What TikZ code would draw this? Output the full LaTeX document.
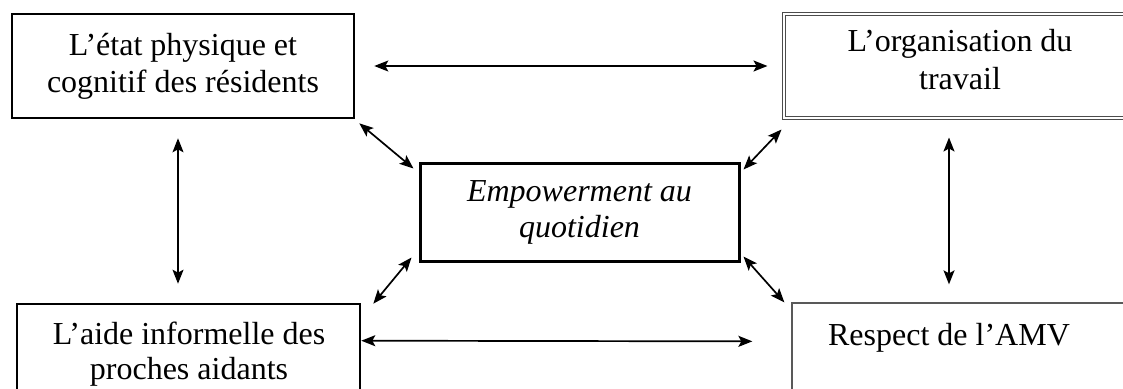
\documentclass[tikz,border=0pt]{standalone}
\usepackage{fontspec}
\setmainfont{Liberation Serif}
\usetikzlibrary{arrows.meta,calc}
\begin{document}
\begin{tikzpicture}[x=1pt,y=-1pt,
  every node/.style={font=\fontsize{32}{37}\selectfont, inner sep=0pt},
  thickbox/.style={draw, line width=2.6pt, align=center},
  centrebox/.style={draw, line width=3pt, align=center, font=\fontsize{32}{36}\selectfont\itshape},
  dblbox/.style={draw=black!70, double, double distance=2.2pt, line width=1pt},
  thinbox/.style={draw=black!65, line width=1.3pt},
  label/.style={align=center},
  arr/.style={line width=1.7pt, {Stealth[length=14pt,width=11pt,inset=3pt]}-{Stealth[length=14pt,width=11pt,inset=3pt]}}
]
\useasboundingbox (0,0) rectangle (1123,388);
\clip (0,0) rectangle (1123,388);

\node[thickbox, minimum width=342pt, minimum height=104pt] (tl) at (183,66) {L’état physique et\\cognitif des résidents};
\node[dblbox, minimum width=352pt, minimum height=104pt] (tr) at (960,66) {};
\node[label, font=\fontsize{32}{38}\selectfont] (trt) at (960,60) {L’organisation du\\travail};
\node[thickbox, minimum width=343pt, minimum height=96pt] (bl) at (188.5,352) {};
\node[label, font=\fontsize{32}{35}\selectfont] (blt) at (189,354) {L’aide informelle des\\proches aidants};
\node[thinbox, minimum width=356pt, minimum height=100pt] (br) at (970,353) {};
\node[label] (brt) at (949,338) {Respect de l’AMV};
\node[centrebox, minimum width=319pt, minimum height=98pt] (c) at (579.5,212) {Empowerment au\\quotidien};

\draw[arr, shorten <=19pt, shorten >=16pt] (tl.east) -- (tr.west);
\draw[arr] ($(bl.north east)+(0,38)$) -- ($(br.north west)+(-39,39)$);
\draw[arr] ($(tl.south)+(-5,19)$) -- ($(bl.north)+(-10.5,-19)$);
\draw[arr] ($(tr.south)+(-11,19)$) -- ($(br.north)+(-21,-18)$);
\draw[arr] ($(tl.south east)+(4,4)$) -- ($(c.north west)+(-5,7)$);
\draw[arr] ($(c.north east)+(3,8)$) -- ($(tr.south west)+(-2,11)$);
\draw[arr] ($(c.south west)+(-7,-5)$) -- ($(bl.north east)+(12,1)$);
\draw[arr] ($(c.south east)+(3,-6)$) -- ($(br.north west)+(-7,0)$);
\end{tikzpicture}
\end{document}
